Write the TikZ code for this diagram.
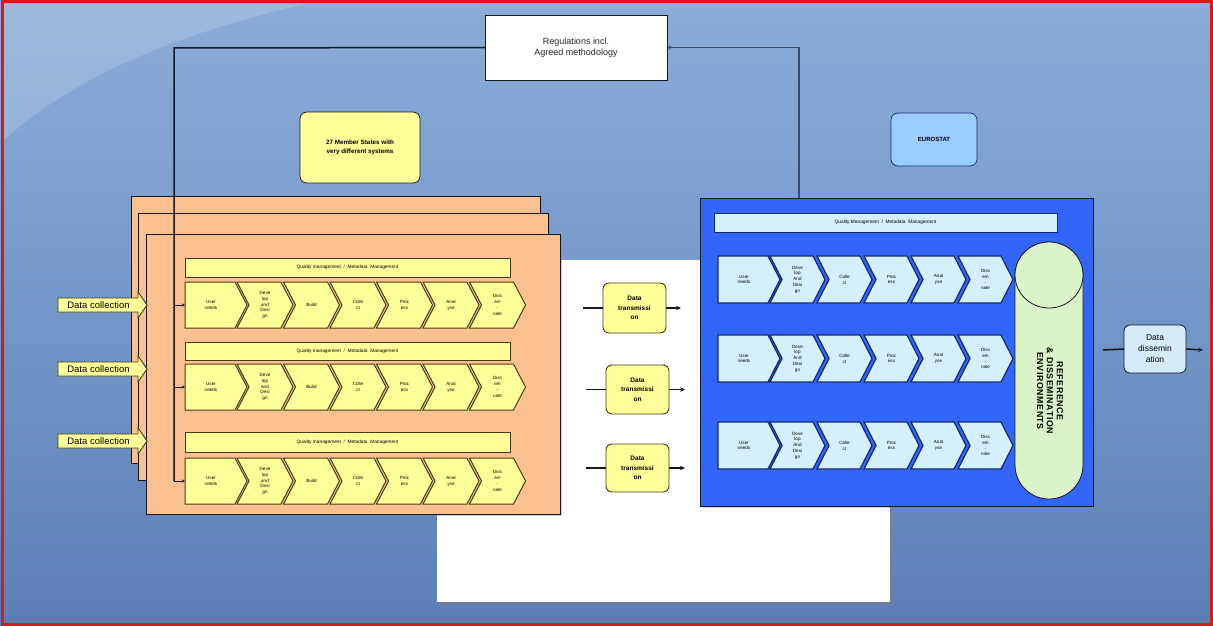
\documentclass[tikz,border=0pt]{standalone}
\usepackage{fontspec}
\setmainfont{Liberation Sans}
\usetikzlibrary{arrows.meta,shadows}
\definecolor{bgtop}{RGB}{165,192,228}
\definecolor{bgmid}{RGB}{125,160,208}
\definecolor{bglow}{RGB}{88,122,178}
\definecolor{bgbot}{RGB}{104,142,198}
\definecolor{frame}{RGB}{220,25,25}
\definecolor{orangebox}{RGB}{250,192,143}
\definecolor{yel}{RGB}{255,255,153}
\definecolor{yeldraw}{RGB}{70,60,20}
\definecolor{bluebox}{RGB}{50,102,250}
\definecolor{cyanfill}{RGB}{212,240,252}
\definecolor{navy}{RGB}{20,40,110}
\definecolor{greenfill}{RGB}{218,243,200}
\definecolor{eufill}{RGB}{153,204,255}
\definecolor{ddfill}{RGB}{212,236,250}
\definecolor{lineclr}{RGB}{20,24,36}
\definecolor{slate}{RGB}{55,75,110}
\pgfdeclareverticalshading{bgsh}{100bp}{color(0bp)=(bgbot); color(20bp)=(bglow); color(60bp)=(bgmid); color(100bp)=(bgtop)}
\begin{document}
\begin{tikzpicture}[x=1pt,y=-1pt,
  box/.style={draw=lineclr, line width=0.7pt, inner sep=0pt, outer sep=0pt, align=center},
  rbox/.style={box, rounded corners=7pt},
  obox/.style={draw=lineclr, line width=0.8pt, fill=orangebox, drop shadow={opacity=0.35, shadow xshift=2pt, shadow yshift=-2pt}},
  qbar/.style={box, fill=yel, draw=yeldraw, font=\fontsize{4.8}{5}\selectfont},
  qbarb/.style={box, fill=cyanfill, draw=navy, font=\fontsize{4.8}{5}\selectfont},
  ochev/.style={draw=yeldraw, line width=1pt, fill=yel},
  bchev/.style={draw=navy, line width=1.2pt, fill=cyanfill},
  clab/.style={align=center, inner sep=0pt, font=\fontsize{4.6}{5.8}\selectfont},
  conn/.style={draw=lineclr, line width=1.5pt},
  arr/.style={conn, -{Stealth[length=5pt,width=4.5pt]}},
  dcshape/.style={draw=yeldraw, line width=0.9pt, fill=yel},
  dclab/.style={inner sep=0pt, font=\fontsize{9.5}{10}\selectfont},
  dtbox/.style={rbox, fill=yel, draw=yeldraw, line width=0.9pt, rounded corners=6pt, font=\bfseries\fontsize{6.5}{9.5}\selectfont, minimum width=63pt},
]
\useasboundingbox (0,0) rectangle (1213,626);
% background
\path[shading=bgsh] (0,0) rectangle (1213,626);
\fill[white, opacity=0.16] (4,4) -- (305,4) .. controls (170,35) and (70,80) .. (4,140) -- cycle;
\draw[frame, line width=3pt] (2,2) rectangle (1211,624);

% white paper
\node[fill=white, inner sep=0pt, minimum width=453pt, minimum height=342pt, drop shadow={opacity=0.45, shadow xshift=3pt, shadow yshift=-3pt}] (paper) at (663.5,431) {};

% orange stacked boxes
\path[obox] (131,196) rectangle (540,463);
\path[obox] (138,213) rectangle (548,480);
\path[obox] (146,234) rectangle (560,514);

% quality bars (orange side)
\node[qbar, minimum width=325pt, minimum height=19pt] (qb1) at (347.5,267.5) {Quality management \ / \ Metadata \ Management};
\node[qbar, minimum width=325pt, minimum height=18pt] (qb2) at (347.5,351) {Quality management \ / \ Metadata \ Management};
\node[qbar, minimum width=325pt, minimum height=20pt] (qb3) at (347.5,442.5) {Quality management \ / \ Metadata \ Management};

% orange chevrons
\foreach \ty/\r in {282/1,364/2,458/3}{
  \foreach \lab [count=\i] in {{User\\needs},{Deve\\lop\\and\\Desi\\gn},Build,{Colle\\ct},{Proc\\ess},{Anal\\yse},{Diss\\em\\-\\nate}}{
    \ifnum\i=1
      \path[ochev] (185,\ty) -- (235,\ty) -- (247,\ty+23) -- (235,\ty+46) -- (185,\ty+46) -- cycle;
      \coordinate (or\r) at (185,\ty+23);
      \node[clab] (oc\r-\i) at (211,\ty+23) {\lab};
    \else
      \pgfmathsetmacro\xa{237+46.5*(\i-2)}
      \path[ochev] (\xa,\ty) -- ++(44,0) -- ++(12,23) -- ++(-12,23) -- ++(-44,0) -- ++(12,-23) -- cycle;
      \node[clab] (oc\r-\i) at (\xa+28,\ty+23) {\lab};
    \fi
  }
}

% data collection arrows
\foreach \yc/\k in {305/1,369/2,441/3}{
  \path[dcshape] (58,\yc-7) -- (138,\yc-7) -- (138,\yc-13) -- (147,\yc) -- (138,\yc+13) -- (138,\yc+7) -- (58,\yc+7) -- cycle;
  \node[dclab] (dc\k) at (98.5,\yc) {Data collection};
}

% regulations
\node[box, fill=white, minimum width=182pt, minimum height=65pt, font=\fontsize{9}{11}\selectfont, text=black!85] (reg) at (576,47.5) {Regulations incl.\\Agreed methodology};
\node[rbox, fill=yel, minimum width=120pt, minimum height=71pt, font=\bfseries\fontsize{6.3}{9}\selectfont] (member) at (360,147.5) {27 Member States with\\very different systems};
\node[rbox, fill=eufill, draw=navy, minimum width=86pt, minimum height=53pt, font=\bfseries\fontsize{6}{7}\selectfont] (eu) at (934,139.5) {EUROSTAT};

% connector regulations -> member state rows
\coordinate (vtop) at (174,48);
\coordinate (vbot) at (174,481);
\draw[conn] (reg.west) -- (vtop) -- (vbot);
\foreach \r in {1,2,3}{
  \draw[conn, line width=1pt, -{Stealth[length=3pt,width=3pt]}] (vtop |- or\r) -- (or\r);
}

% data transmission
\node[dtbox, minimum height=50pt] (dt1) at (634.5,308) {Data\\transmissi\\on};
\node[dtbox, minimum height=49pt] (dt2) at (637.5,389.5) {Data\\transmissi\\on};
\node[dtbox, minimum height=48pt] (dt3) at (637.5,468) {Data\\transmissi\\on};
\coordinate (dtin1) at (583,308);  \coordinate (dtout1) at (681,308);
\coordinate (dtin2) at (586,389.5);\coordinate (dtout2) at (685,389.5);
\coordinate (dtin3) at (586,468);  \coordinate (dtout3) at (685,468);
\foreach \k in {1,2,3}{
  \draw[conn] (dtin\k) -- (dt\k.west);
  \draw[arr] (dt\k.east) -- (dtout\k);
}

% blue Eurostat box
\node[fill=bluebox, draw=lineclr, line width=0.8pt, inner sep=0pt, minimum width=393pt, minimum height=308pt, drop shadow={opacity=0.35, shadow xshift=2pt, shadow yshift=-2pt}] (bbox) at (896.5,352) {};
\node[qbarb, minimum width=343pt, minimum height=19pt] (qbb) at (885.5,222.5) {Quality Management \ / \ Metadata \ Management};

\foreach \ty/\r in {256/1,335/2,422/3}{
  \foreach \lab [count=\i] in {{User\\needs},{Deve\\lop\\And\\Desi\\gn},{Colle\\ct},{Proc\\ess},{Anal\\yse},{Diss\\em\\-\\nate}}{
    \ifnum\i=1
      \path[bchev] (718,\ty) -- (768,\ty) -- (780,\ty+23.5) -- (768,\ty+47) -- (718,\ty+47) -- cycle;
      \node[clab] (bc\r-\i) at (744,\ty+23.5) {\lab};
    \else
      \pgfmathsetmacro\xa{770+47*(\i-2)}
      \path[bchev] (\xa,\ty) -- ++(43,0) -- ++(12,23.5) -- ++(-12,23.5) -- ++(-43,0) -- ++(12,-23.5) -- cycle;
      \node[clab] (bc\r-\i) at (\xa+27.5,\ty+23.5) {\lab};
    \fi
  }
}

% cylinder
\draw[draw=lineclr, line width=0.8pt, fill=greenfill, rounded corners=34pt] (1015,242) rectangle (1083,499);
\draw[draw=lineclr, line width=0.8pt, fill=greenfill] (1049,275) ellipse (34 and 33);
\node[rotate=-90, align=center, inner sep=0pt, font=\bfseries\fontsize{8.8}{9.8}\selectfont\addfontfeature{LetterSpace=7}] (refenv) at (1050,391) {REFERENCE\\\& DISSEMINATION\\ENVIRONMENTS};

% Eurostat -> regulations
\coordinate (bup) at (799,198);
\draw[conn, draw=slate, -{Stealth[length=4pt,width=4pt]}] (bup) |- (reg.east);

% data dissemination
\node[rbox, fill=ddfill, draw=lineclr, line width=0.8pt, rounded corners=6pt, minimum width=62pt, minimum height=48pt, font=\fontsize{8.5}{11}\selectfont] (dd) at (1155,349) {Data\\dissemin\\ation};
\coordinate (ddin) at (1103,350);
\coordinate (ddout) at (1203,350);
\draw[conn] (ddin) -- (dd.west);
\draw[arr] (dd.east) -- (ddout);
\end{tikzpicture}
\end{document}
